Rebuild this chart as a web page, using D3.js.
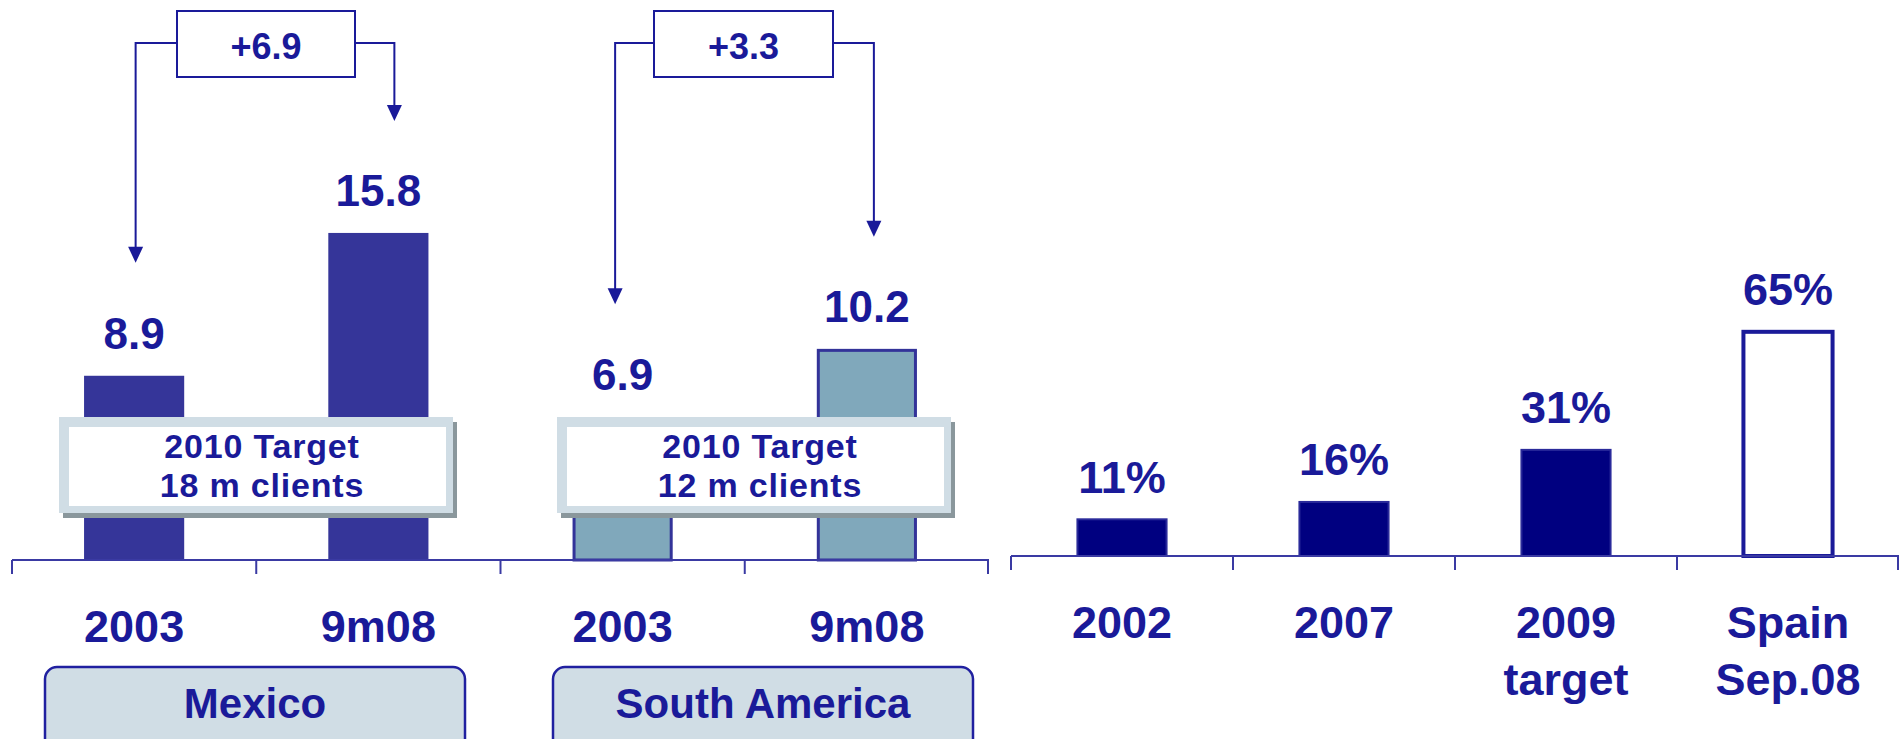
<!DOCTYPE html>
<html>
<head>
<meta charset="utf-8">
<script src="https://cdn.jsdelivr.net/npm/d3@7"></script>
<style>
  html, body { margin: 0; padding: 0; background: #ffffff; }
  svg { display: block; }
  text { font-family: "Liberation Sans", Arial, sans-serif; font-weight: bold; fill: #1a1a99; }
</style>
</head>
<body>
<svg id="chart" width="1901" height="739"></svg>
<script>
// ---------- data ----------
const leftKeys = ["mx2003", "mx9m08", "sa2003", "sa9m08"];
const leftTickLabels = ["2003", "9m08", "2003", "9m08"];
const leftValues = [8.9, 15.8, 6.9, 10.2];
const leftValueLabels = ["8.9", "15.8", "6.9", "10.2"];
const regionNames = ["Mexico", "South America"];
const increments = ["+6.9", "+3.3"];
const targetLine1 = ["2010 Target", "2010 Target"];
const targetLine2 = ["18 m clients", "12 m clients"];

const rightKeys = ["2002", "2007", "2009t", "spain"];
const rightTickLabels = [["2002"], ["2007"], ["2009", "target"], ["Spain", "Sep.08"]];
const rightValues = [11, 16, 31, 65];
const rightValueLabels = ["11%", "16%", "31%", "65%"];

// ---------- colours ----------
const TEXT = "#1a1a99";
const AXIS = "#3a3aa3";
const MX_FILL = "#353599";
const SA_FILL = "#80a8bb";
const SA_STROKE = "#333399";
const R_FILL = "#000080";
const BOX_FILL = "#d0dde5";

const svg = d3.select("#chart");

// ---------- scales ----------
const xL = d3.scaleBand().domain(leftKeys).range([12, 989]).paddingInner(0.59).paddingOuter(0.295);
const yL = d3.scaleLinear().domain([0, 20]).range([560, 560 - 20 * 20.7]);

const xR = d3.scaleBand().domain(rightKeys).range([1011, 1899]).paddingInner(0.585).paddingOuter(0.2925);
const yR = d3.scaleLinear().domain([0, 100]).range([556, 556 - 347.2]);

function drawAxis(x, y0, tickLen) {
  const [a, b] = x.range();
  const step = x.step();
  const g = svg.append("g");
  g.append("line").attr("x1", a).attr("x2", b).attr("y1", y0).attr("y2", y0)
    .attr("stroke", AXIS).attr("stroke-width", 2);
  const n = x.domain().length;
  for (let i = 0; i <= n; i++) {
    const xx = Math.min(a + i * step, b - 1);
    g.append("line").attr("x1", xx).attr("x2", xx).attr("y1", y0).attr("y2", y0 + tickLen)
      .attr("stroke", AXIS).attr("stroke-width", 2);
  }
}

// ---------- left panel bars ----------
const cL = k => xL(k) + xL.bandwidth() / 2;

svg.append("g").selectAll("rect")
  .data(leftKeys.map((k, i) => ({ k, v: leftValues[i], i })))
  .join("rect")
  .attr("x", d => xL(d.k) + (d.i >= 2 ? 1.5 : 0))
  .attr("width", d => xL.bandwidth() - (d.i >= 2 ? 3 : 0))
  .attr("y", d => yL(d.v) + (d.i >= 2 ? 1.5 : 0))
  .attr("height", d => yL(0) - yL(d.v) - (d.i >= 2 ? 1.5 : 0))
  .attr("fill", d => d.i < 2 ? MX_FILL : SA_FILL)
  .attr("stroke", d => d.i < 2 ? "none" : SA_STROKE)
  .attr("stroke-width", 3);

drawAxis(xL, 560, 14);

// value labels
svg.append("g").selectAll("text")
  .data(leftKeys.map((k, i) => ({ k, v: leftValues[i], t: leftValueLabels[i] })))
  .join("text")
  .attr("x", d => cL(d.k))
  .attr("y", d => yL(d.v) - 27)
  .attr("text-anchor", "middle")
  .attr("font-size", 44)
  .text(d => d.t);

// tick labels
svg.append("g").selectAll("text")
  .data(leftKeys.map((k, i) => ({ k, t: leftTickLabels[i] })))
  .join("text")
  .attr("x", d => cL(d.k))
  .attr("y", 642)
  .attr("text-anchor", "middle")
  .attr("font-size", 45)
  .text(d => d.t);

// increment boxes + connectors
const incLayout = [
  { box: [177, 355], left: cL(leftKeys[0]) + 1.5, right: cL(leftKeys[1]) + 16 },
  { box: [654, 833], left: cL(leftKeys[2]) - 7.5, right: cL(leftKeys[3]) + 7 }
];
incLayout.forEach((L, gi) => {
  const g = svg.append("g");
  const yMid = 43;
  const v0 = leftValues[gi * 2], v1 = leftValues[gi * 2 + 1];
  const tip0 = yL(v0) - 113, tip1 = yL(v1) - 112;
  g.append("path")
    .attr("d", `M${L.box[0]},${yMid} H${L.left} V${tip0 - 15}`)
    .attr("fill", "none").attr("stroke", TEXT).attr("stroke-width", 2);
  g.append("path")
    .attr("d", `M${L.box[1]},${yMid} H${L.right} V${tip1 - 15}`)
    .attr("fill", "none").attr("stroke", TEXT).attr("stroke-width", 2);
  g.append("path")
    .attr("d", `M${L.left - 7.5},${tip0 - 16} L${L.left + 7.5},${tip0 - 16} L${L.left},${tip0} Z`)
    .attr("fill", TEXT);
  g.append("path")
    .attr("d", `M${L.right - 7.5},${tip1 - 16} L${L.right + 7.5},${tip1 - 16} L${L.right},${tip1} Z`)
    .attr("fill", TEXT);
  g.append("rect")
    .attr("x", L.box[0]).attr("y", 11)
    .attr("width", L.box[1] - L.box[0]).attr("height", 66)
    .attr("fill", "#ffffff").attr("stroke", TEXT).attr("stroke-width", 2);
  g.append("text")
    .attr("x", (L.box[0] + L.box[1]) / 2).attr("y", 59)
    .attr("text-anchor", "middle").attr("font-size", 36)
    .text(increments[gi]);
});

// target boxes (drawn over bars)
const targetX = [59, 557];
targetX.forEach((x0, gi) => {
  const g = svg.append("g");
  const w = 394, h = 96, y0 = 417;
  g.append("rect").attr("x", x0 + 4).attr("y", y0 + 5).attr("width", w).attr("height", h)
    .attr("fill", "#8a979c");
  g.append("rect").attr("x", x0).attr("y", y0).attr("width", w).attr("height", h)
    .attr("fill", BOX_FILL);
  g.append("rect").attr("x", x0 + 10).attr("y", y0 + 10).attr("width", w - 17).attr("height", h - 17)
    .attr("fill", "#ffffff");
  const cx = x0 + w / 2 + 6;
  g.append("text").attr("x", cx).attr("y", 458).attr("text-anchor", "middle")
    .attr("font-size", 34).attr("letter-spacing", 0.8).text(targetLine1[gi]);
  g.append("text").attr("x", cx).attr("y", 497).attr("text-anchor", "middle")
    .attr("font-size", 34).attr("letter-spacing", 0.8).text(targetLine2[gi]);
});

// region boxes at the bottom
const regionBoxes = [[45, 465], [553, 973]];
regionBoxes.forEach((b, gi) => {
  const g = svg.append("g");
  g.append("rect").attr("x", b[0]).attr("y", 667).attr("width", b[1] - b[0]).attr("height", 90)
    .attr("rx", 12).attr("ry", 12)
    .attr("fill", BOX_FILL).attr("stroke", "#2020a0").attr("stroke-width", 2.5);
  g.append("text").attr("x", (b[0] + b[1]) / 2).attr("y", 718).attr("text-anchor", "middle")
    .attr("font-size", 42).text(regionNames[gi]);
});

// ---------- right panel ----------
const cR = k => xR(k) + xR.bandwidth() / 2;
svg.append("g").selectAll("rect")
  .data(rightKeys.map((k, i) => ({ k, v: rightValues[i], i })))
  .join("rect")
  .attr("x", d => xR(d.k) + 1.5)
  .attr("width", xR.bandwidth() - 3)
  .attr("y", d => yR(d.v) + 1.5)
  .attr("height", d => yR(0) - yR(d.v) - 1.5)
  .attr("fill", d => d.i === 3 ? "#ffffff" : R_FILL)
  .attr("stroke", d => d.i === 3 ? "#1a1a99" : "#2a2a9a")
  .attr("stroke-width", d => d.i === 3 ? 4 : 2);

drawAxis(xR, 556, 14);

svg.append("g").selectAll("text")
  .data(rightKeys.map((k, i) => ({ k, v: rightValues[i], t: rightValueLabels[i] })))
  .join("text")
  .attr("x", d => cR(d.k))
  .attr("y", d => yR(d.v) - 25)
  .attr("text-anchor", "middle")
  .attr("font-size", 45)
  .text(d => d.t);

svg.append("g").selectAll("text")
  .data(rightKeys.map((k, i) => ({ k, lines: rightTickLabels[i] })))
  .join("text")
  .attr("x", d => cR(d.k))
  .attr("y", 638)
  .attr("text-anchor", "middle")
  .attr("font-size", 45)
  .selectAll("tspan")
  .data(d => d.lines.map(l => ({ l, x: cR(d.k) })))
  .join("tspan")
  .attr("x", d => d.x)
  .attr("dy", (d, i) => i === 0 ? 0 : 57)
  .text(d => d.l);
</script>
</body>
</html>
